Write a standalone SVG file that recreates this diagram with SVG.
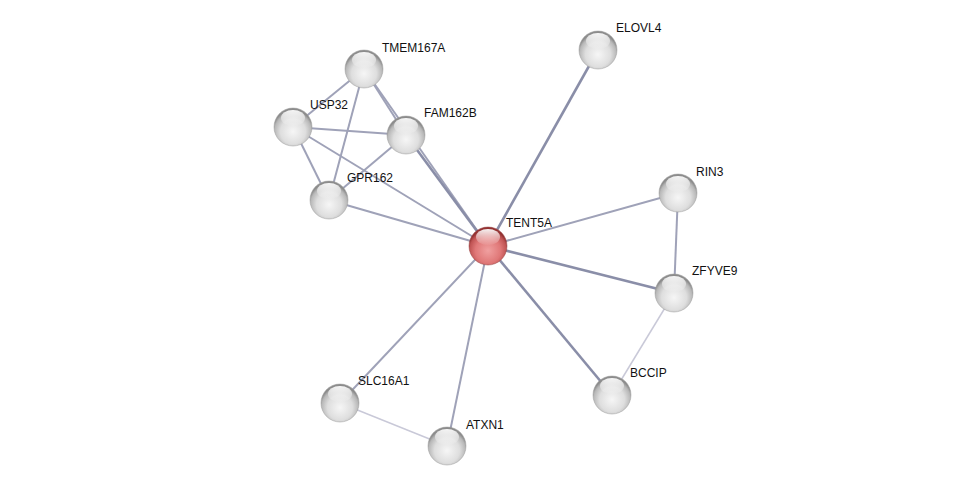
<svg xmlns="http://www.w3.org/2000/svg" width="975" height="492" viewBox="0 0 975 492">
<defs>
<radialGradient id="gGray" cx="0.5" cy="0.62" r="0.55">
<stop offset="0" stop-color="#f6f6f6"/>
<stop offset="0.6" stop-color="#dedede"/>
<stop offset="0.88" stop-color="#b8b8b8"/>
<stop offset="1" stop-color="#8c8c8c"/>
</radialGradient>
<radialGradient id="gRed" cx="0.5" cy="0.62" r="0.55">
<stop offset="0" stop-color="#f0a0a0"/>
<stop offset="0.6" stop-color="#e07878"/>
<stop offset="0.88" stop-color="#c05454"/>
<stop offset="1" stop-color="#943232"/>
</radialGradient>
<linearGradient id="gHi" x1="0" y1="0" x2="0" y2="1">
<stop offset="0" stop-color="#ffffff" stop-opacity="0.95"/>
<stop offset="1" stop-color="#ffffff" stop-opacity="0.05"/>
</linearGradient>
<g id="sphereGray">
<circle r="19" fill="url(#gGray)" stroke="#9a9a9a" stroke-width="0.5"/>
<ellipse cx="0" cy="-9" rx="12" ry="8" fill="url(#gHi)"/>
</g>
<g id="sphereRed">
<circle r="19" fill="url(#gRed)" stroke="#944040" stroke-width="0.5"/>
<ellipse cx="0" cy="-9" rx="12" ry="8" fill="url(#gHi)"/>
</g>
</defs>
<style>
.e{stroke:#9fa2b8;stroke-width:2;fill:none}
.es{stroke:#8a8ea8;stroke-width:2.6;fill:none}
.el{stroke:#c9c9d8;stroke-width:1.5;fill:none}
text{font-family:"Liberation Sans",Arial,sans-serif;font-size:12px;fill:#111}
</style>
<rect width="975" height="492" fill="#ffffff"/>
<g id="edges">
<line class="es" x1="488" y1="246" x2="598" y2="50"/>
<line class="e" x1="488" y1="246" x2="364" y2="69"/>
<line class="es" x1="488" y1="246" x2="406" y2="135"/>
<line class="e" x1="488" y1="246" x2="293" y2="127"/>
<line class="e" x1="488" y1="246" x2="329" y2="200"/>
<line class="e" x1="488" y1="246" x2="678" y2="193"/>
<line class="es" x1="488" y1="246" x2="674" y2="293"/>
<line class="es" x1="488" y1="246" x2="612" y2="395"/>
<line class="e" x1="488" y1="246" x2="340" y2="403"/>
<line class="e" x1="488" y1="246" x2="447" y2="446"/>
<line class="e" x1="678" y1="193" x2="674" y2="293"/>
<line class="el" x1="674" y1="293" x2="612" y2="395"/>
<line class="el" x1="340" y1="403" x2="447" y2="446"/>
<line class="e" x1="364" y1="69" x2="293" y2="127"/>
<line class="e" x1="364" y1="69" x2="329" y2="200"/>
<line class="e" x1="364" y1="69" x2="406" y2="135"/>
<line class="e" x1="293" y1="127" x2="406" y2="135"/>
<line class="e" x1="293" y1="127" x2="329" y2="200"/>
<line class="e" x1="406" y1="135" x2="329" y2="200"/>
</g>
<g id="node-ELOVL4"><use href="#sphereGray" x="598" y="50"/><text x="616" y="32">ELOVL4</text></g>
<g id="node-TMEM167A"><use href="#sphereGray" x="364" y="69"/><text x="382" y="52">TMEM167A</text></g>
<g id="node-USP32"><use href="#sphereGray" x="293" y="127"/><text x="310" y="109">USP32</text></g>
<g id="node-FAM162B"><use href="#sphereGray" x="406" y="135"/><text x="424" y="117">FAM162B</text></g>
<g id="node-GPR162"><use href="#sphereGray" x="329" y="200"/><text x="347" y="182">GPR162</text></g>
<g id="node-RIN3"><use href="#sphereGray" x="678" y="193"/><text x="696" y="176">RIN3</text></g>
<g id="node-ZFYVE9"><use href="#sphereGray" x="674" y="293"/><text x="692" y="275">ZFYVE9</text></g>
<g id="node-BCCIP"><use href="#sphereGray" x="612" y="395"/><text x="630" y="377">BCCIP</text></g>
<g id="node-SLC16A1"><use href="#sphereGray" x="340" y="403"/><text x="358" y="385">SLC16A1</text></g>
<g id="node-ATXN1"><use href="#sphereGray" x="447" y="446"/><text x="466" y="429">ATXN1</text></g>
<g id="node-TENT5A"><use href="#sphereRed" x="488" y="246"/><text x="506" y="227">TENT5A</text></g>
</svg>
